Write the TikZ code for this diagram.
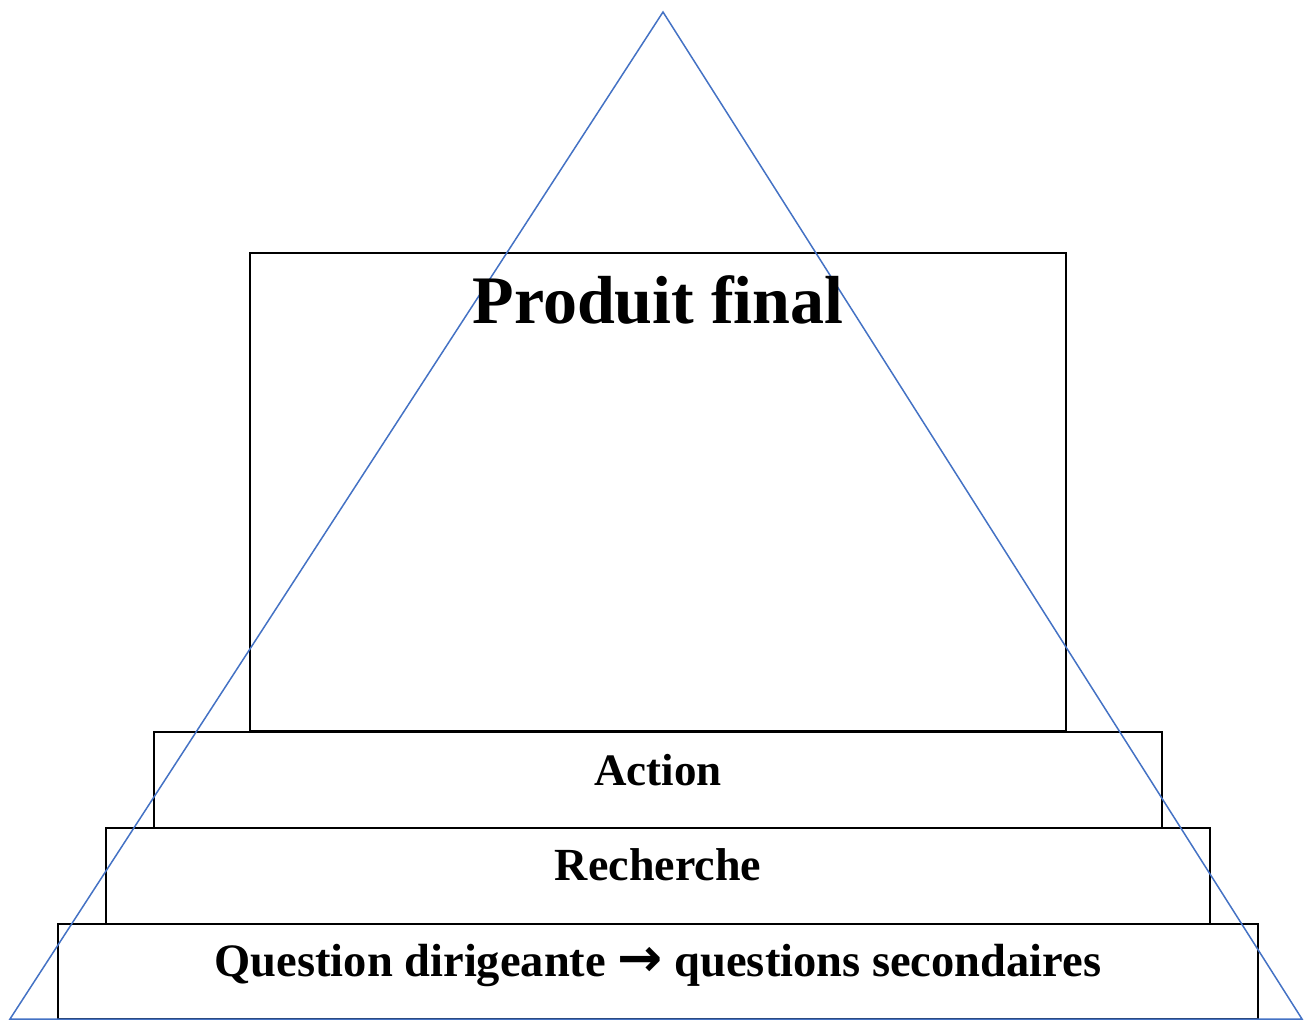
\documentclass[tikz,border=0pt]{standalone}
\usepackage{fontspec}
\setmainfont{Liberation Serif}
\newfontfamily\arrowfont{DejaVu Sans}
\definecolor{triblue}{HTML}{4472C4}
\begin{document}
\begin{tikzpicture}[x=1pt,y=-1pt,
  box/.style={draw=black,line width=1.6pt,inner sep=0pt,outer sep=0pt},
  lbl/.style={font=\bfseries\fontsize{45}{50}\selectfont,inner sep=0pt,anchor=base},
  tri/.style={draw=triblue,line width=1.5pt,line join=miter}]
\useasboundingbox (0,0) rectangle (1309,1020);
\node[box,minimum width=816pt,minimum height=478pt,anchor=north west] (pf) at (250,253) {};
\node[box,minimum width=1008pt,minimum height=96pt,anchor=north west] (act) at (154,732) {};
\node[box,minimum width=1104pt,minimum height=96pt,anchor=north west] (rech) at (106,828) {};
\node[box,minimum width=1200pt,minimum height=95pt,anchor=north west] (qd) at (58,924) {};
\coordinate (apex) at (663,12);
\coordinate (bl) at (10,1019);
\coordinate (br) at (1302,1019);
\draw[tri] (apex) -- (bl) -- (br) -- cycle;
\node[lbl,font=\bfseries\fontsize{68}{72}\selectfont] (tpf) at (658,323) {Produit final};
\node[lbl] (tact) at (658,785) {Action};
\node[lbl,font=\bfseries\fontsize{46}{50}\selectfont] (trech) at (658,880) {Recherche};
\node[lbl,font=\bfseries\fontsize{46.5}{50}\selectfont] (tqd) at (658,976) {Question dirigeante {\arrowfont\bfseries\fontsize{54}{50}\selectfont →} questions secondaires};
\end{tikzpicture}
\end{document}
